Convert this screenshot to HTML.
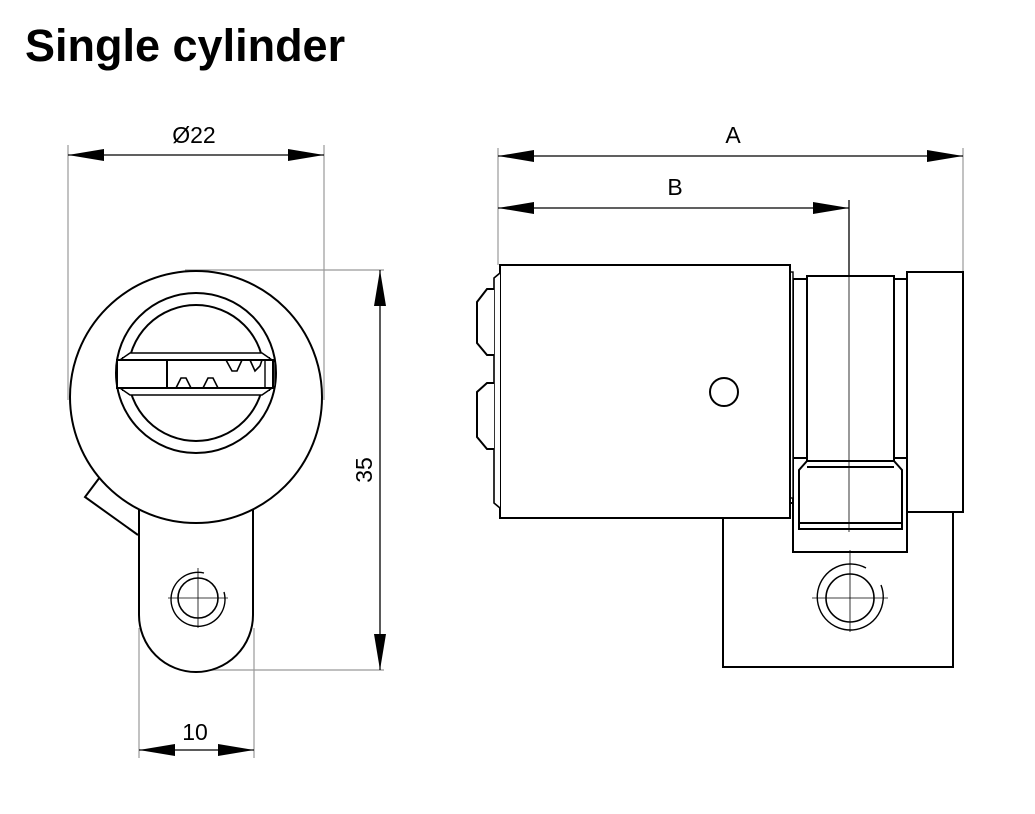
<!DOCTYPE html>
<html><head><meta charset="utf-8"><style>
html,body{margin:0;padding:0;background:#fff;}
svg{display:block;}
</style></head><body>
<svg width="1035" height="814" viewBox="0 0 1035 814" xmlns="http://www.w3.org/2000/svg">
<defs>
<marker id="ar" markerWidth="36" markerHeight="12" refX="36" refY="6" orient="auto" markerUnits="userSpaceOnUse">
<path d="M0,0 L36,6 L0,12 Z" fill="#000"/>
</marker>
</defs>
<text x="25" y="61" font-family="Liberation Sans, sans-serif" font-weight="bold" font-size="45" fill="#000">Single cylinder</text>
<g font-family="Liberation Sans, sans-serif" font-size="23" fill="#000">
<text x="194" y="143" text-anchor="middle">Ø22</text>
<text x="733" y="143" text-anchor="middle">A</text>
<text x="675" y="195" text-anchor="middle">B</text>
<text x="195" y="740" text-anchor="middle">10</text>
<text x="0" y="0" text-anchor="middle" transform="translate(372,470) rotate(-90)">35</text>
</g>
<!-- extension lines -->
<g stroke="#999" stroke-width="1.2" fill="none">
<line x1="68" y1="145" x2="68" y2="400"/>
<line x1="324" y1="145" x2="324" y2="400"/>
<line x1="185" y1="270" x2="384" y2="270"/>
<line x1="210" y1="670" x2="384" y2="670"/>
<line x1="139" y1="628" x2="139" y2="758"/>
<line x1="254" y1="628" x2="254" y2="758"/>
<line x1="498" y1="148" x2="498" y2="265"/>
<line x1="963" y1="148" x2="963" y2="272"/>
</g>
<!-- dimension lines -->
<g stroke="#000" stroke-width="1.3" fill="none">
<line x1="120" y1="155" x2="68" y2="155" marker-end="url(#ar)"/>
<line x1="270" y1="155" x2="324" y2="155" marker-end="url(#ar)"/>
<line x1="380" y1="320" x2="380" y2="270" marker-end="url(#ar)"/>
<line x1="380" y1="620" x2="380" y2="670" marker-end="url(#ar)"/>
<line x1="190" y1="750" x2="139" y2="750" marker-end="url(#ar)"/>
<line x1="200" y1="750" x2="254" y2="750" marker-end="url(#ar)"/>
<line x1="120" y1="155" x2="270" y2="155"/>
<line x1="380" y1="320" x2="380" y2="620"/>
<line x1="190" y1="750" x2="200" y2="750"/>
<line x1="560" y1="156" x2="498" y2="156" marker-end="url(#ar)"/>
<line x1="560" y1="156" x2="963" y2="156" marker-end="url(#ar)"/>
<line x1="560" y1="208" x2="498" y2="208" marker-end="url(#ar)"/>
<line x1="560" y1="208" x2="849" y2="208" marker-end="url(#ar)"/>
<line x1="849" y1="200" x2="849" y2="532"/>
</g>
<!-- left view -->
<g stroke="#000" stroke-width="2" fill="none">
<path d="M139,510 L139,615 A57,57 0 0 0 253,615 L253,510"/>
<path d="M100,477 L85,497 L138,535"/>
<circle cx="196" cy="397" r="126" fill="#fff"/>
<circle cx="196" cy="373" r="80"/>
<circle cx="196" cy="373" r="68"/>
<path d="M122,358 L270,358 M122,390 L270,390" />
<path d="M117,362 L130,353 L262,353 L275,362 L275,386 L262,395 L130,395 L117,386 Z" fill="#fff" stroke-width="1.5"/>
<rect x="117" y="360" width="156" height="28" fill="#fff"/>
<line x1="167" y1="360" x2="167" y2="388"/>
<path d="M176,388 L181,378 L186,378 L191,388 M203,388 L208,378 L213,378 L218,388 M226,360 L232,371 L237,371 L242,360 M250,360 L255,371 L260,366 L262,360" stroke-width="1.6"/>
<line x1="265" y1="360" x2="265" y2="388" stroke-width="1.4"/>
<circle cx="198" cy="598" r="20" stroke-width="1.6"/>
<path d="M204,573 A27,27 0 1 0 224,592" stroke-width="1.4"/>
</g>
<g stroke="#000" stroke-width="0.8"><line x1="198" y1="568" x2="198" y2="628"/><line x1="168" y1="598" x2="228" y2="598"/></g>
<!-- right view -->
<g stroke="#000" stroke-width="2" fill="#fff">
<rect x="723" y="503" width="230" height="164"/>
<rect x="793" y="458" width="114" height="94"/>
<rect x="907" y="272" width="56" height="240"/>
<rect x="894" y="279" width="13" height="179"/>
<rect x="793" y="279" width="14" height="179"/>
<rect x="807" y="276" width="87" height="185"/>
<path d="M799,470 L807,461 L894,461 L902,470 L902,529 L799,529 Z"/>
<line x1="807" y1="467" x2="894" y2="467"/>
<line x1="799" y1="523" x2="902" y2="523"/>
<rect x="790" y="272" width="3" height="226" stroke-width="1.4"/>
<rect x="500" y="265" width="290" height="253"/>
<path d="M500,273 L494,278 L494,503 L500,508" stroke-width="1.6"/>
<path d="M494,289 L487,289 L477,302 L477,343 L487,355 L494,355"/>
<path d="M494,383 L487,383 L477,392 L477,437 L487,449 L494,449"/>
<circle cx="724" cy="392" r="14"/>
<circle cx="850" cy="598" r="24" stroke-width="1.6"/>
</g>
<path d="M866,568 A33,33 0 1 0 881,585" stroke="#000" stroke-width="1.4" fill="none"/>
<g stroke="#000" stroke-width="0.8"><line x1="849" y1="200" x2="849" y2="532"/><line x1="850" y1="550" x2="850" y2="632"/><line x1="812" y1="598" x2="888" y2="598"/></g>
</svg>
</body></html>
